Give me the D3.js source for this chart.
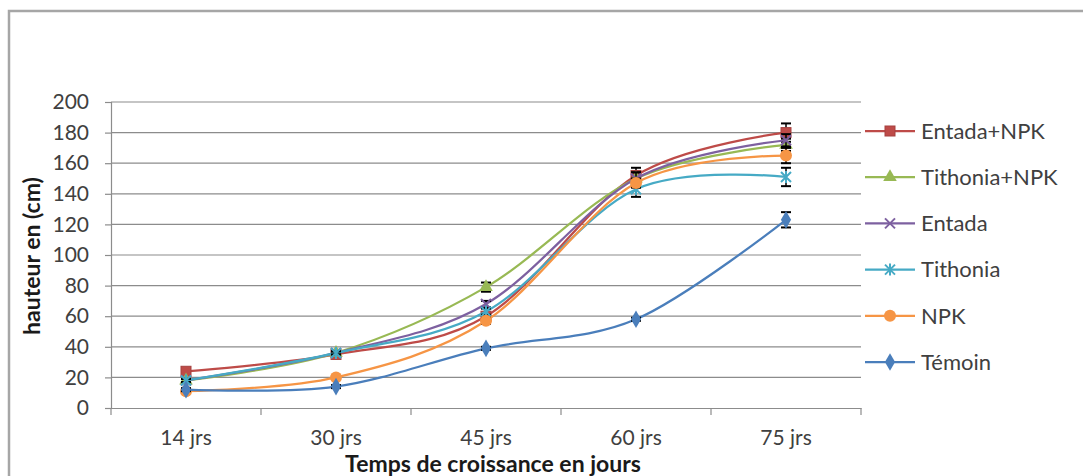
<!DOCTYPE html>
<html>
<head>
<meta charset="utf-8">
<script src="https://cdn.jsdelivr.net/npm/d3@7"></script>
<style>
  body { margin: 0; background: #fff; }
  svg { display: block; font-family: Lato, "Liberation Sans", sans-serif; }
</style>
</head>
<body>
<svg id="chart" width="1083" height="476"></svg>
<script>
// categories and series
var categories = ["14 jrs", "30 jrs", "45 jrs", "60 jrs", "75 jrs"];
var seriesNames = ["Entada+NPK", "Tithonia+NPK", "Entada", "Tithonia", "NPK", "Témoin"];
var entadaNpk   = [24, 35, 60, 152, 180];
var tithoniaNpk = [18, 36, 79, 150, 172];
var entada      = [18, 36, 68, 150, 175];
var tithonia    = [18, 36, 63, 143, 151];
var npk         = [11, 20, 57, 147, 165];
var temoin      = [12, 14, 39, 58, 123];
// standard errors
var errEntadaNpk   = [1, 1, 2, 5, 6];
var errTithoniaNpk = [1, 1, 3, 4, 4];
var errEntada      = [1, 1, 2, 4, 4];
var errTithonia    = [1, 1, 2, 5, 6];
var errNpk         = [1, 1, 2, 3, 5];
var errTemoin      = [1, 1, 1, 1, 5];
var yTicks = [0, 20, 40, 60, 80, 100, 120, 140, 160, 180, 200];

var colors = ["#be4b48", "#98b954", "#7d60a0", "#46aac5", "#f69545", "#4a7ebb"];
var shapes = ["square", "triangle", "cross", "star", "circle", "diamond"];
var values = [entadaNpk, tithoniaNpk, entada, tithonia, npk, temoin];
var errors = [errEntadaNpk, errTithoniaNpk, errEntada, errTithonia, errNpk, errTemoin];

var svg = d3.select("#chart"),
    plotLeft = 111, plotRight = 861, plotTop = 102, plotBottom = 408;

// outer frame of the chart area
svg.append("rect")
    .attr("x", 9).attr("y", 11)
    .attr("width", 1090).attr("height", 480)
    .attr("fill", "none").attr("stroke", "#a6a6a6").attr("stroke-width", 2.5);

var x = d3.scaleBand().domain(categories).range([plotLeft, plotRight]);
var y = d3.scaleLinear().domain([0, 200]).range([plotBottom, plotTop]);

// gridlines
svg.append("g").selectAll("line")
    .data(yTicks.slice(1))
    .enter().append("line")
    .attr("x1", plotLeft).attr("x2", plotRight)
    .attr("y1", function(d) { return y(d); })
    .attr("y2", function(d) { return y(d); })
    .attr("stroke", "#8c8c8c").attr("stroke-width", 1.2);

var yAxis = svg.append("g")
    .attr("transform", "translate(" + plotLeft + ",0)")
    .call(d3.axisLeft(y).tickValues(yTicks).tickSize(6).tickPadding(16));
yAxis.select(".domain").attr("stroke", "#8c8c8c").attr("stroke-width", 1.2);
yAxis.selectAll(".tick line").attr("stroke", "#8c8c8c").attr("stroke-width", 1.2);
yAxis.selectAll("text").attr("font-size", 21).attr("fill", "#404040")
    .attr("font-family", "Lato, sans-serif");

var xAxis = svg.append("g")
    .attr("transform", "translate(0," + plotBottom + ")")
    .call(d3.axisBottom(x).tickSize(0).tickPadding(22));
xAxis.select(".domain").attr("stroke", "#8c8c8c").attr("stroke-width", 1.2);
xAxis.selectAll("text").attr("font-size", 21).attr("fill", "#404040")
    .attr("font-family", "Lato, sans-serif");
// tick marks between categories
svg.append("g").selectAll("line")
    .data(d3.range(categories.length + 1))
    .enter().append("line")
    .attr("x1", function(i) { return plotLeft + i * x.bandwidth(); })
    .attr("x2", function(i) { return plotLeft + i * x.bandwidth(); })
    .attr("y1", plotBottom).attr("y2", plotBottom + 7)
    .attr("stroke", "#8c8c8c").attr("stroke-width", 1.2);

// axis titles
svg.append("text")
    .attr("x", 493).attr("y", 472)
    .attr("text-anchor", "middle")
    .attr("font-size", 23).attr("font-weight", "bold").attr("fill", "#1a1a1a")
    .text("Temps de croissance en jours");
svg.append("text")
    .attr("transform", "translate(40,256) rotate(-90)")
    .attr("text-anchor", "middle")
    .attr("font-size", 23).attr("font-weight", "bold").attr("fill", "#1a1a1a")
    .text("hauteur en (cm)");

var cx = function(i) { return x(categories[i]) + x.bandwidth() / 2; };

var line = d3.line()
    .x(function(d, i) { return cx(i); })
    .y(function(d) { return y(d); })
    .curve(d3.curveCardinal);

function marker(g, shape, color, px, py) {
    if (shape === "square") {
        g.append("rect").attr("x", px - 5).attr("y", py - 5).attr("width", 10).attr("height", 10)
            .attr("fill", color).attr("stroke", d3.color(color).darker(0.4));
    } else if (shape === "triangle") {
        g.append("path").attr("d", d3.symbol(d3.symbolTriangle, 80)())
            .attr("transform", "translate(" + px + "," + py + ")").attr("fill", color);
    } else if (shape === "cross") {
        g.append("path").attr("d", "M-5,-5L5,5M-5,5L5,-5")
            .attr("transform", "translate(" + px + "," + py + ")")
            .attr("stroke", color).attr("stroke-width", 2);
    } else if (shape === "star") {
        g.append("path").attr("d", "M-5,-5L5,5M-5,5L5,-5M0,-6L0,6")
            .attr("transform", "translate(" + px + "," + py + ")")
            .attr("stroke", color).attr("stroke-width", 2);
    } else if (shape === "circle") {
        g.append("circle").attr("cx", px).attr("cy", py).attr("r", 6).attr("fill", color);
    } else {
        g.append("path").attr("d", d3.symbol(d3.symbolDiamond, 90)())
            .attr("transform", "translate(" + px + "," + py + ")").attr("fill", color);
    }
}

seriesNames.forEach(function(name, s) {
    var g = svg.append("g");
    g.append("path")
        .attr("d", line(values[s]))
        .attr("fill", "none")
        .attr("stroke", colors[s])
        .attr("stroke-width", 2.25);
    values[s].forEach(function(v, i) {
        var e = errors[s][i], px = cx(i);
        g.append("line").attr("x1", px).attr("x2", px)
            .attr("y1", y(v - e)).attr("y2", y(v + e))
            .attr("stroke", "#000").attr("stroke-width", 1.5);
        [v - e, v + e].forEach(function(t) {
            g.append("line").attr("x1", px - 5).attr("x2", px + 5)
                .attr("y1", y(t)).attr("y2", y(t))
                .attr("stroke", "#000").attr("stroke-width", 2);
        });
        marker(g, shapes[s], colors[s], px, y(v));
    });
});

// legend
var legendY = d3.scalePoint().domain(seriesNames).range([131, 362]);
seriesNames.forEach(function(name, s) {
    var ly = legendY(name);
    var g = svg.append("g");
    g.append("line").attr("x1", 865).attr("x2", 915).attr("y1", ly).attr("y2", ly)
        .attr("stroke", colors[s]).attr("stroke-width", 2.25);
    marker(g, shapes[s], colors[s], 890, ly);
    g.append("text").attr("x", 921).attr("y", ly).attr("dy", "0.35em")
        .attr("font-size", 22).attr("fill", "#404040")
        .text(name);
});
</script>
</body>
</html>
